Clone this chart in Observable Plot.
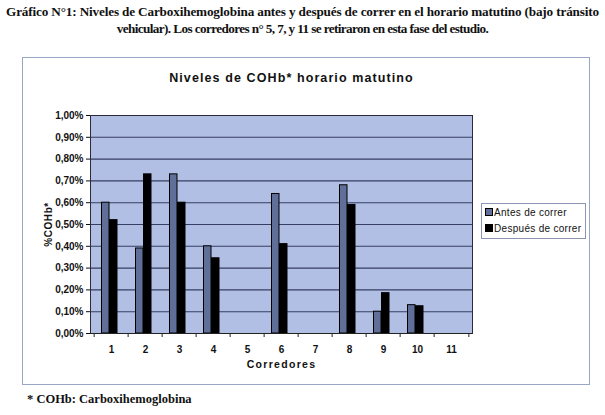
<!DOCTYPE html>
<html>
<head>
<meta charset="utf-8">
<script src="https://cdn.jsdelivr.net/npm/d3@7"></script>
<script src="https://cdn.jsdelivr.net/npm/@observablehq/plot@0.6"></script>
<style>
  html, body { margin: 0; padding: 0; background: #fff; }
  #page { position: relative; width: 605px; height: 415px; overflow: hidden; }
  #title { position: absolute; left: 0; top: 3px; width: 605px; text-align: center;
    font-family: "Liberation Serif", "Times New Roman", serif; font-weight: bold; font-size: 13.2px; line-height: 17px; color: #111; letter-spacing: -0.15px; }
  #title .l2 { letter-spacing: -0.6px; }
  #box { position: absolute; left: 22px; top: 57px; width: 566px; height: 326px; border: 1px solid #9aa6c6; }
  #chart { position: absolute; left: 0; top: 0; }
  #ctitle { position: absolute; left: 0; top: 13px; width: 537px; text-align: center;
    font-family: "Liberation Sans", Arial, sans-serif; font-weight: bold; font-size: 12.5px; letter-spacing: 1.1px; color: #111; }
  #legend { position: absolute; left: 458px; top: 145px; width: 103px; height: 34px; border: 1px solid #8c96b4;
    font-family: "Liberation Sans", Arial, sans-serif; font-size: 10px; color: #111; letter-spacing: 0.3px; }
  #legend .it { position: absolute; left: 3px; white-space: nowrap; }
  #legend .sw { display: inline-block; width: 6px; height: 6px; border: 1px solid #000; margin-right: 1px; vertical-align: 0px; }
  #foot { position: absolute; left: 27px; top: 392px; font-family: "Liberation Serif", "Times New Roman", serif; font-weight: bold; font-size: 12.5px; color: #111; }
  g[aria-label="x-axis label"] text { letter-spacing: 1.3px; font-size: 10.5px; }
  g[aria-label="y-axis label"] text { letter-spacing: 0.6px; }
</style>
</head>
<body>
<div id="page">
  <div id="title">Gráfico N°1: Niveles de Carboxihemoglobina antes y después de correr en el horario matutino (bajo tránsito<br><span class="l2">vehicular). Los corredores n° 5, 7, y 11 se retiraron en esta fase del estudio.</span></div>
  <div id="box">
    <div id="chart"></div>
    <div id="ctitle">Niveles de COHb* horario matutino</div>
    <div id="legend"></div>
  </div>
  <div id="foot">* COHb: Carboxihemoglobina</div>
</div>
<script>
const corredores = ["1","2","3","4","5","6","7","8","9","10","11"];
const antes   = [0.60, 0.39, 0.73, 0.40, null, 0.64, null, 0.68, 0.10, 0.13, null];
const despues = [0.52, 0.73, 0.60, 0.345, null, 0.41, null, 0.59, 0.185, 0.125, null];
const series = ["Antes de correr", "Después de correr"];
const yTicks = [0, 0.1, 0.2, 0.3, 0.4, 0.5, 0.6, 0.7, 0.8, 0.9, 1.0];
const colors = ["#5f6f98", "#000000"];

const antesData = corredores.map((c, i) => ({corredor: c, serie: series[0], valor: antes[i]})).filter(d => d.valor != null);
const despuesData = corredores.map((c, i) => ({corredor: c, serie: series[1], valor: despues[i]})).filter(d => d.valor != null);

const fmt = d => d.toFixed(2).replace(".", ",") + "%";
const halfBand = (566 - 67 - 117) / corredores.length / 2;

const chart = Plot.plot({
  width: 566,
  height: 326,
  marginLeft: 67,
  marginRight: 117,
  marginTop: 57,
  marginBottom: 51,
  style: { fontFamily: "Liberation Sans, Arial, sans-serif", fontWeight: "bold", fontSize: "10px", color: "#111", background: "transparent" },
  x: { domain: corredores, padding: 0, label: "Corredores" },
  y: { domain: [0, 1], ticks: yTicks, tickFormat: fmt, label: "%COHb*" },
  color: { domain: series, range: colors },
  marks: [
    Plot.frame({ fill: "#b2bfe4", stroke: "none" }),
    Plot.gridY(yTicks, { stroke: "#283055", strokeOpacity: 0.9, strokeWidth: 1.1 }),
    Plot.frame({ stroke: "#2a2a3a", strokeWidth: 1 }),
    Plot.axisY({ ticks: yTicks, tickFormat: fmt, tickSize: 4, tickPadding: 3, label: "%COHb*", labelAnchor: "center", labelArrow: "none", labelOffset: 46, fontSize: 10 }),
    Plot.axisX({ label: "Corredores", labelAnchor: "center", labelArrow: "none", labelOffset: 34, tickSize: 0, tickPadding: 12, fontSize: 10 }),
    Plot.ruleX(corredores, { x: d => d, y1: 0, y2: 0, insetBottom: -4, dx: -halfBand, stroke: "#222" }),
    Plot.ruleX(corredores.slice(-1), { x: d => d, y1: 0, y2: 0, insetBottom: -4, dx: halfBand, stroke: "#222" }),
    Plot.barY(antesData, { x: "corredor", y: "valor", fill: "serie", stroke: "#000", strokeWidth: 1, insetLeft: 7.5, insetRight: 19 }),
    Plot.barY(despuesData, { x: "corredor", y: "valor", fill: "serie", stroke: "#000", strokeWidth: 1, insetLeft: 15.5, insetRight: 11 }),
    Plot.ruleY([0], { stroke: "#222" })
  ]
});
document.getElementById("chart").appendChild(chart);

const leg = document.getElementById("legend");
series.forEach((s, i) => {
  const it = document.createElement("div");
  it.className = "it";
  it.style.top = (3 + i * 16) + "px";
  it.innerHTML = `<span class="sw" style="background:${colors[i]}"></span>${s}`;
  leg.appendChild(it);
});
</script>
</body>
</html>
